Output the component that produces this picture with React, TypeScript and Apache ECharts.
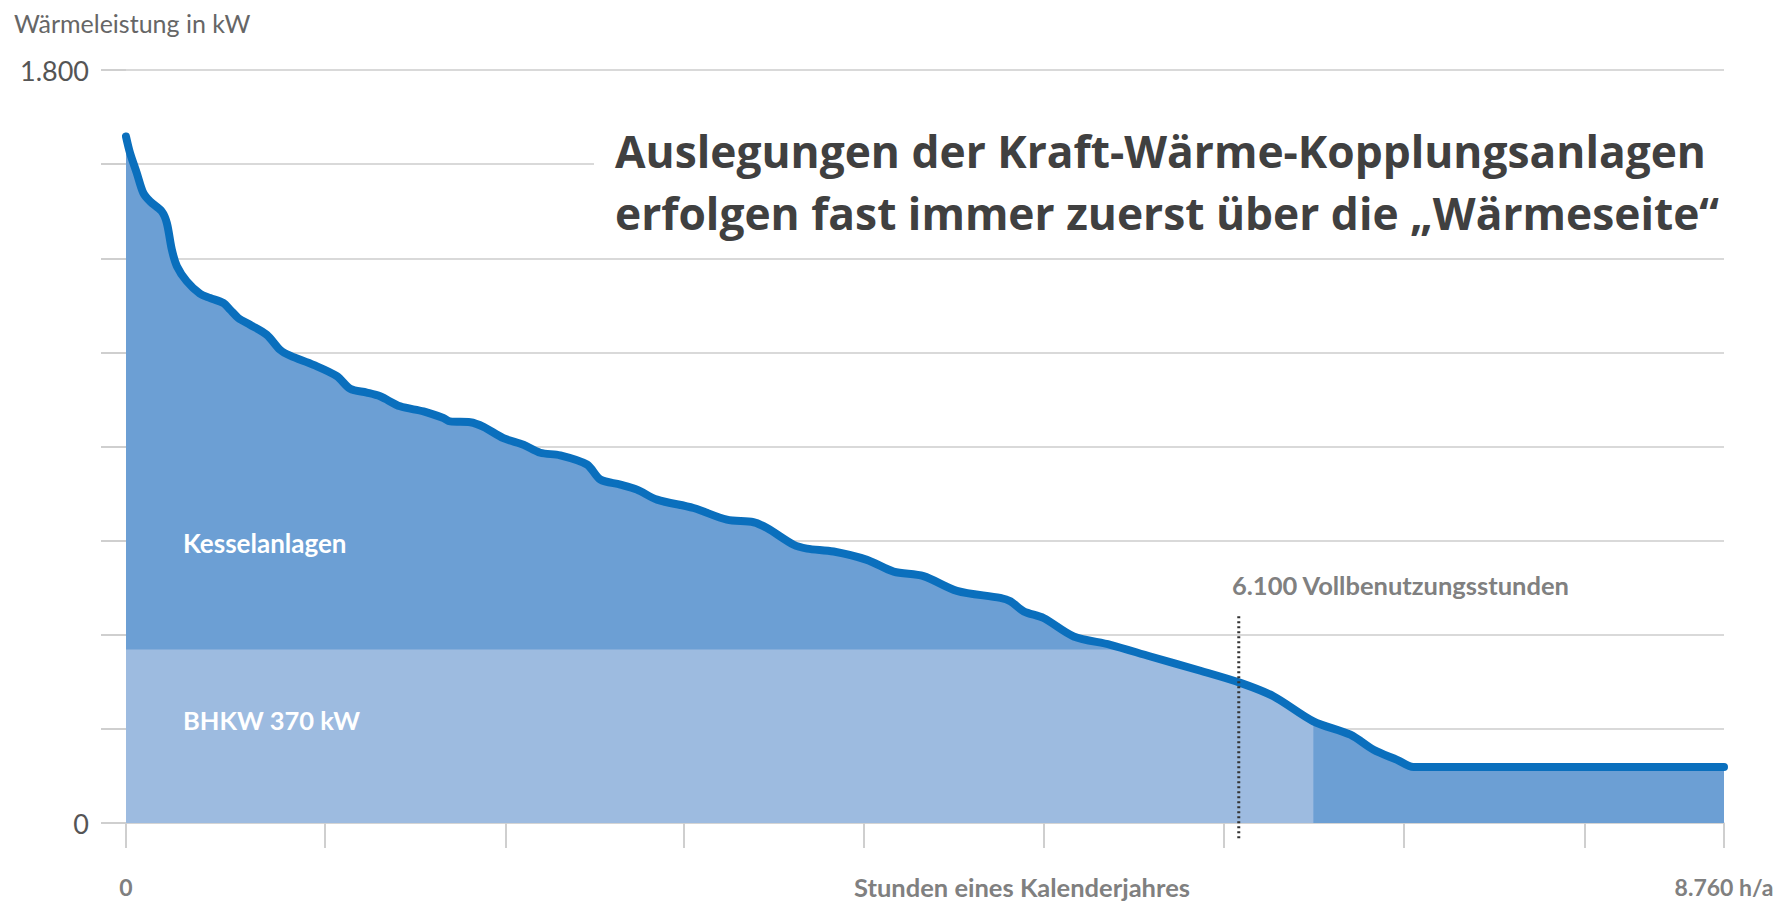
import React, { useEffect, useRef } from "react";
import * as echarts from "echarts";

// Jahresdauerlinie der Wärmeleistung
const HOURS = [0, 22, 59, 95, 132, 196, 224, 251, 279, 333, 406, 461, 534, 571, 616, 680, 772, 845, 900, 1028, 1156, 1229, 1320, 1393, 1503, 1631, 1740, 1777, 1887, 1960, 2069, 2179, 2271, 2380, 2527, 2600, 2710, 2801, 2911, 3111, 3294, 3440, 3514, 3660, 3733, 3879, 4062, 4208, 4372, 4555, 4793, 4848, 4921, 5030, 5195, 5396, 5616, 5890, 6109, 6290, 6509, 6712, 6839, 6968, 7058, 8760];
const HEAT_KW = [1641, 1602, 1554, 1506, 1486, 1462, 1434, 1371, 1331, 1295, 1265, 1255, 1243, 1227, 1207, 1191, 1167, 1131, 1117, 1095, 1068, 1038, 1029, 1020, 996, 984, 968, 960, 958, 947, 920, 904, 885, 879, 857, 821, 809, 797, 773, 753, 725, 719, 705, 665, 656, 649, 629, 601, 590, 555, 538, 530, 506, 490, 446, 426, 398, 364, 335, 303, 243, 211, 175, 151, 134, 134];

// BHKW band (level as drawn in the picture) and its end hour
const BHKW_LEVEL_KW = 415;
const BHKW_END_HOUR = 6509;
const FULL_LOAD_HOURS = 6100;
const FULL_LOAD_MARK_TOP_KW = 494;

const X_TICKS = [0, 1090, 2080, 3060, 4045, 5030, 6015, 7005, 7995, 8760];
const X_LABELS = [0, 8760];
const X_LABEL_TEXT: Record<number, string> = { 0: "0", 8760: "8.760 h/a" };
const Y_LABEL_TEXT: Record<number, string> = { 0: "0", 1800: "1.800" };

const TITLE_LINES = [
  "Auslegungen der Kraft-Wärme-Kopplungsanlagen",
  "erfolgen fast immer zuerst über die „Wärmeseite“",
];

const FONT = "Lato, 'Noto Sans', sans-serif";
const TITLE_FONT = "'Open Sans', 'Noto Sans', sans-serif";

function buildBand(): number[][] {
  const out: number[][] = [];
  for (let i = 0; i < HOURS.length; i++) {
    const h = HOURS[i];
    const v = HEAT_KW[i];
    if (h > BHKW_END_HOUR) break;
    if (i > 0) {
      const pv = HEAT_KW[i - 1];
      const ph = HOURS[i - 1];
      if (pv > BHKW_LEVEL_KW && v < BHKW_LEVEL_KW) {
        const t = (pv - BHKW_LEVEL_KW) / (pv - v);
        out.push([ph + t * (h - ph), BHKW_LEVEL_KW]);
      }
    }
    out.push([h, Math.min(v, BHKW_LEVEL_KW)]);
  }
  return out;
}

export default function App() {
  const ref = useRef<HTMLDivElement>(null);
  useEffect(() => {
    if (!ref.current) return;
    const chart = echarts.init(ref.current, undefined, { renderer: "svg" });
    const curve = HOURS.map((h, i) => [h, HEAT_KW[i]]);
    chart.setOption({
      animation: false,
      grid: { left: 126, right: 68, top: 70, bottom: 81 },
      xAxis: {
        type: "value",
        min: 0,
        max: 8760,
        axisLine: { show: true, lineStyle: { color: "#d2d2d2", width: 1.5 } },
        axisTick: {
          show: true,
          length: 25,
          customValues: X_TICKS,
          lineStyle: { color: "#cfcfcf", width: 2 },
        },
        axisLabel: {
          customValues: X_LABELS,
          formatter: (v: number) => X_LABEL_TEXT[v] ?? "",
          margin: 52,
          color: "#808080",
          fontFamily: FONT,
          fontWeight: "bold",
          fontSize: 23,
        },
        splitLine: { show: false },
      },
      yAxis: {
        type: "value",
        min: 0,
        max: 1800,
        interval: 225,
        axisLine: { show: false },
        axisTick: { show: true, length: 25, lineStyle: { color: "#cfcfcf", width: 2 } },
        axisLabel: {
          formatter: (v: number) => Y_LABEL_TEXT[v] ?? "",
          margin: 37,
          color: "#555555",
          fontFamily: FONT,
          fontSize: 27,
        },
        splitLine: { lineStyle: { color: "#d9d9d9", width: 2 } },
      },
      series: [
        {
          name: "Kesselanlagen",
          type: "line",
          data: curve,
          smooth: 0.3,
          symbol: "none",
          lineStyle: { width: 0 },
          areaStyle: { color: "#6c9fd4", opacity: 1 },
          z: 1,
        },
        {
          name: "BHKW",
          type: "line",
          data: buildBand(),
          smooth: 0.3,
          symbol: "none",
          lineStyle: { width: 0 },
          areaStyle: { color: "#9dbbe0", opacity: 1 },
          z: 2,
        },
        {
          name: "Wärmeleistung",
          type: "line",
          data: curve,
          smooth: 0.3,
          symbol: "none",
          lineStyle: { width: 8, color: "#0a6fbd", cap: "round", join: "round" },
          z: 3,
        },
        {
          type: "custom",
          data: [[FULL_LOAD_HOURS, FULL_LOAD_MARK_TOP_KW]],
          clip: false,
          z: 4,
          renderItem: (_params: any, api: any) => {
            const top = api.coord([api.value(0), api.value(1)]);
            const base = api.coord([api.value(0), 0]);
            return {
              type: "line",
              shape: { x1: top[0], y1: top[1], x2: base[0], y2: base[1] + 17 },
              style: { stroke: "#333333", lineWidth: 3, lineDash: [2, 3] },
            };
          },
        },
      ],
      graphic: [
        {
          type: "text",
          x: 14,
          y: 23,
          style: {
            text: "Wärmeleistung in kW",
            font: `25px ${FONT}`,
            fill: "#666666",
            textVerticalAlign: "middle",
          },
        },
        {
          type: "rect",
          shape: { x: 594, y: 105, width: 1180, height: 135 },
          style: { fill: "#ffffff" },
          z: 10,
        },
        {
          type: "text",
          x: 615,
          y: 151,
          z: 11,
          style: {
            text: TITLE_LINES[0],
            font: `bold 44.3px ${TITLE_FONT}`,
            fill: "#404040",
            textVerticalAlign: "middle",
          },
        },
        {
          type: "text",
          x: 615,
          y: 213,
          z: 11,
          style: {
            text: TITLE_LINES[1],
            font: `bold 44.3px ${TITLE_FONT}`,
            fill: "#404040",
            textVerticalAlign: "middle",
          },
        },
        {
          type: "text",
          x: 183,
          y: 543,
          z: 11,
          style: {
            text: "Kesselanlagen",
            font: `bold 26px ${FONT}`,
            fill: "#ffffff",
            textVerticalAlign: "middle",
          },
        },
        {
          type: "text",
          x: 183,
          y: 720,
          z: 11,
          style: {
            text: "BHKW 370 kW",
            font: `bold 25.5px ${FONT}`,
            fill: "#ffffff",
            textVerticalAlign: "middle",
          },
        },
        {
          type: "text",
          x: 1232,
          y: 585,
          z: 11,
          style: {
            text: "6.100 Vollbenutzungsstunden",
            font: `bold 25.5px ${FONT}`,
            fill: "#808080",
            textVerticalAlign: "middle",
          },
        },
        {
          type: "text",
          x: 1022,
          y: 887,
          z: 11,
          style: {
            text: "Stunden eines Kalenderjahres",
            font: `bold 25.5px ${FONT}`,
            fill: "#808080",
            textAlign: "center",
            textVerticalAlign: "middle",
          },
        },
      ],
    });
    return () => chart.dispose();
  }, []);
  return (
    <div
      ref={ref}
      style={{ position: "fixed", left: 0, top: 0, width: 1792, height: 904, background: "#ffffff" }}
    />
  );
}
